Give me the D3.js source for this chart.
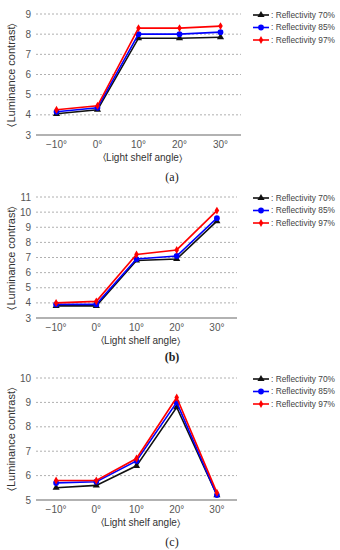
<!DOCTYPE html>
<html>
<head>
<meta charset="utf-8">
<script src="https://cdn.jsdelivr.net/npm/d3@7"></script>
<style>
body { margin: 0; background: #fff; }
svg { display: block; }
</style>
</head>
<body>
<div id="chart"></div>
<script>
const width = 340;
const height = 550;

const angles = ["\u221210\u00b0", "0\u00b0", "10\u00b0", "20\u00b0", "30\u00b0"];
const seriesNames = ["Reflectivity 70%", "Reflectivity 85%", "Reflectivity 97%"];
const seriesColors = ["#111111", "#0000ff", "#ff0000"];

// panel (a)
const a70 = [4.05, 4.25, 7.8, 7.8, 7.85];
const a85 = [4.15, 4.35, 8.0, 8.0, 8.1];
const a97 = [4.25, 4.45, 8.3, 8.3, 8.4];
const aTicks = [3, 4, 5, 6, 7, 8, 9];

// panel (b)
const b70 = [3.8, 3.8, 6.8, 6.9, 9.4];
const b85 = [3.9, 3.9, 6.9, 7.1, 9.6];
const b97 = [4.0, 4.1, 7.2, 7.5, 10.1];
const bTicks = [3, 4, 5, 6, 7, 8, 9, 10, 11];

// panel (c)
const c70 = [5.5, 5.6, 6.4, 8.8, 5.2];
const c85 = [5.7, 5.75, 6.6, 9.0, 5.2];
const c97 = [5.8, 5.8, 6.7, 9.2, 5.3];
const cTicks = [5, 6, 7, 8, 9, 10];

const svg = d3.select("#chart")
    .append("svg")
    .attr("width", width)
    .attr("height", height);

const font = "'Liberation Sans', Arial, sans-serif";

function drawPanel(opts) {
    const g = svg.append("g");

    const x = d3.scalePoint()
        .domain(angles)
        .range([opts.x0, opts.x1])
        .padding(0.5);

    const y = d3.scaleLinear()
        .domain([opts.ticks[0], opts.ticks[opts.ticks.length - 1]])
        .range([opts.bottom, opts.top]);

    // dashed grid
    g.selectAll(".grid")
        .data(opts.ticks.slice(1))
        .join("line")
        .attr("x1", opts.x0)
        .attr("x2", opts.x1)
        .attr("y1", d => y(d))
        .attr("y2", d => y(d))
        .attr("stroke", "#b0b0b0")
        .attr("stroke-width", 1)
        .attr("stroke-dasharray", "2,2");

    // bottom axis line
    g.append("line")
        .attr("x1", opts.x0)
        .attr("x2", opts.x1)
        .attr("y1", y(opts.ticks[0]))
        .attr("y2", y(opts.ticks[0]))
        .attr("stroke", "#999")
        .attr("stroke-width", 1.5);

    // y tick labels
    g.selectAll(".ytick")
        .data(opts.ticks)
        .join("text")
        .attr("x", 31)
        .attr("y", d => y(d))
        .attr("dy", "0.35em")
        .attr("text-anchor", "end")
        .attr("font-family", font)
        .attr("font-size", 10)
        .attr("fill", "#555")
        .text(d => d);

    // x tick labels
    g.selectAll(".xtick")
        .data(angles)
        .join("text")
        .attr("x", d => x(d))
        .attr("y", opts.bottom + 13)
        .attr("text-anchor", "middle")
        .attr("font-family", font)
        .attr("font-size", 10)
        .attr("fill", "#555")
        .text(d => d);

    // axis titles
    g.append("text")
        .attr("x", (opts.x0 + opts.x1) / 2 + 4)
        .attr("y", opts.bottom + 26)
        .attr("text-anchor", "middle")
        .attr("font-family", font)
        .attr("font-size", 10)
        .attr("fill", "#333")
        .text("\u2329Light shelf angle\u232a");

    g.append("text")
        .attr("transform", `translate(15,${(opts.top + opts.bottom) / 2}) rotate(-90)`)
        .attr("text-anchor", "middle")
        .attr("font-family", font)
        .attr("font-size", 11)
        .attr("fill", "#333")
        .text("\u2329Luminance contrast\u232a");

    // caption
    g.append("text")
        .attr("x", 172)
        .attr("y", opts.captionY)
        .attr("text-anchor", "middle")
        .attr("font-family", "'Liberation Serif', serif")
        .attr("font-size", 12)
        .attr("font-weight", opts.bold ? "bold" : "normal")
        .attr("fill", "#222")
        .text(opts.caption);

    const line = d3.line()
        .x((d, i) => x(angles[i]))
        .y(d => y(d));

    opts.series.forEach((vals, k) => {
        const color = seriesColors[k];
        g.append("path")
            .datum(vals)
            .attr("d", line)
            .attr("fill", "none")
            .attr("stroke", color)
            .attr("stroke-width", 1.6);
        drawMarkers(g, vals.map((v, i) => [x(angles[i]), y(v)]), k);

        // legend
        const ly = opts.legendY + k * 12.5;
        g.append("line")
            .attr("x1", 253)
            .attr("x2", 269)
            .attr("y1", ly)
            .attr("y2", ly)
            .attr("stroke", color)
            .attr("stroke-width", 1.6);
        drawMarkers(g, [[261, ly]], k);
        g.append("text")
            .attr("x", 271)
            .attr("y", ly)
            .attr("dy", "0.35em")
            .attr("font-family", font)
            .attr("font-size", 8.5)
            .attr("fill", "#444")
            .attr("textLength", 64)
            .attr("lengthAdjust", "spacingAndGlyphs")
            .text(": " + seriesNames[k]);
    });
}

function drawMarkers(g, pts, k) {
    const types = [d3.symbolTriangle, d3.symbolCircle, d3.symbolDiamond];
    const sizes = [22, 26, 18];
    g.selectAll(null)
        .data(pts)
        .join("path")
        .attr("transform", d => `translate(${d[0]},${d[1]})`)
        .attr("d", d3.symbol().type(types[k]).size(sizes[k]))
        .attr("fill", seriesColors[k]);
}

drawPanel({
    series: [a70, a85, a97], ticks: aTicks,
    x0: 36, x1: 241, top: 14, bottom: 135,
    legendY: 15, caption: "(a)", captionY: 181, bold: false
});

drawPanel({
    series: [b70, b85, b97], ticks: bTicks,
    x0: 36, x1: 237, top: 197, bottom: 318,
    legendY: 198, caption: "(b)", captionY: 361, bold: true
});

drawPanel({
    series: [c70, c85, c97], ticks: cTicks,
    x0: 36, x1: 237, top: 378, bottom: 500,
    legendY: 379, caption: "(c)", captionY: 546, bold: false
});
</script>
</body>
</html>
